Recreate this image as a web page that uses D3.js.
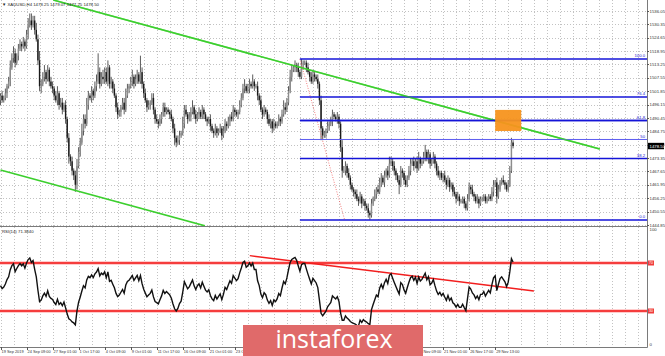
<!DOCTYPE html>
<html>
<head>
<meta charset="utf-8">
<script src="https://cdn.jsdelivr.net/npm/d3@7"></script>
<style>
  body { margin: 0; background: #fff; }
  svg { display: block; font-family: "Liberation Sans", Arial, sans-serif; }
</style>
</head>
<body>
<div id="chart"></div>
<script>
// XAUUSD H4, 19 Sep 2019 17:00 .. 3 Dec 2019

// closes before the first visible bar (only used to warm up the RSI)
const preCloses = [1499, 1502, 1504, 1501, 1500, 1502, 1503, 1505, 1506, 1503, 1508, 1494, 1496, 1499, 1501, 1498]

const closes = [
  1500, 1498,
  1499, 1501, 1504, 1506, 1512, 1516,
  1518, 1514, 1517, 1520, 1522, 1521,
  1523, 1521, 1526, 1530, 1532, 1530,
  1532, 1528, 1524, 1515, 1504, 1505,
  1508, 1510, 1507, 1511, 1506, 1504,
  1503, 1500, 1498, 1501, 1496, 1497,
  1494, 1496, 1490, 1482, 1474, 1472,
  1468, 1466, 1462, 1470, 1476, 1480,
  1485, 1490, 1488, 1496, 1500, 1499,
  1502, 1500, 1504, 1506, 1510, 1505,
  1508, 1507, 1510, 1506, 1512, 1505,
  1506, 1503, 1500, 1495, 1492, 1493,
  1495, 1497, 1494, 1500, 1503, 1504,
  1506, 1508, 1505, 1507, 1509, 1506,
  1510, 1505, 1501, 1498, 1495, 1496,
  1497, 1499, 1494, 1490, 1489, 1488,
  1490, 1492, 1495, 1493, 1494, 1493,
  1492, 1490, 1486, 1482, 1480, 1481,
  1483, 1484, 1488, 1494, 1492, 1490,
  1491, 1493, 1495, 1492, 1490, 1492,
  1493, 1491, 1494, 1492, 1490, 1489,
  1490, 1487, 1485, 1484, 1486, 1484,
  1485, 1486, 1483, 1485, 1488, 1487,
  1489, 1491, 1490, 1494, 1493, 1492,
  1493, 1496, 1499, 1503, 1504, 1502,
  1503, 1505, 1504, 1506, 1504, 1504,
  1500, 1498, 1494, 1492, 1494, 1493,
  1490, 1488, 1489, 1486, 1488, 1487,
  1488, 1490, 1489, 1492, 1495, 1494,
  1497, 1502, 1508, 1511, 1512, 1513,
  1512, 1510, 1508, 1513, 1514, 1514,
  1512, 1510, 1508, 1506, 1509, 1508,
  1507, 1505, 1498, 1486, 1483, 1484,
  1485, 1487, 1488, 1489, 1492, 1491,
  1490, 1491, 1488, 1478, 1468, 1468,
  1470, 1467, 1465, 1462, 1460, 1459,
  1458, 1456, 1455, 1457, 1454, 1455,
  1453, 1452, 1450, 1449, 1454, 1456,
  1458, 1460, 1459, 1463, 1465, 1463,
  1466, 1468, 1466, 1471, 1472, 1470,
  1468, 1466, 1464, 1462, 1468, 1467,
  1464, 1462, 1465, 1468, 1471, 1472,
  1470, 1472, 1469, 1473, 1471, 1472,
  1474, 1476, 1473, 1475, 1471, 1472,
  1474, 1471, 1468, 1466, 1467, 1465,
  1466, 1464, 1462, 1464, 1461, 1462,
  1459, 1458, 1456, 1457, 1455, 1455,
  1456, 1454, 1452, 1456, 1461, 1460,
  1458, 1457, 1455, 1456, 1454, 1456,
  1456, 1457, 1455, 1456, 1457, 1456,
  1459, 1462, 1463, 1457, 1460, 1463,
  1464, 1463, 1462, 1460, 1462, 1468,
  1480, 1478.5
]

// wick length above the body / below the body, in dollars
const wickUp = [
  1, 2,
  1, 2, 1, 2, 3, 2,
  3, 2, 1, 2, 2, 1,
  2, 1, 2, 3, 3, 3,
  2, 2, 3, 2, 4, 2,
  2, 3, 1, 2, 1, 2,
  2, 1, 2, 3, 1, 2,
  2, 1, 2, 1, 2, 1,
  2, 1, 2, 3, 2, 2,
  3, 2, 2, 3, 2, 1,
  2, 1, 2, 3, 8, 2,
  2, 3, 2, 2, 3, 1,
  2, 1, 2, 1, 2, 1,
  1, 2, 2, 3, 2, 1,
  2, 3, 1, 2, 2, 1,
  7, 2, 1, 2, 1, 2,
  1, 2, 2, 1, 2, 1,
  2, 1, 2, 2, 1, 1,
  1, 2, 1, 2, 1, 2,
  2, 1, 3, 2, 2, 1,
  2, 2, 3, 1, 2, 1,
  2, 1, 2, 1, 1, 1,
  1, 2, 1, 1, 2, 1,
  1, 2, 1, 2, 2, 1,
  2, 1, 2, 2, 1, 1,
  1, 2, 2, 2, 3, 1,
  2, 2, 1, 3, 1, 1,
  2, 1, 2, 1, 2, 1,
  1, 2, 1, 1, 2, 1,
  1, 2, 1, 2, 3, 2,
  2, 2, 3, 2, 1, 2,
  1, 2, 1, 2.6, 1, 1,
  1, 2, 1, 2, 2, 1,
  1, 2, 1, 2, 1, 1,
  1, 2, 1, 2, 2, 1,
  1, 2, 1, 1, 3, 2,
  2, 1, 2, 1, 1, 1,
  1, 2, 1, 2, 1, 1,
  1, 1, 2, 1, 2, 1,
  2, 1, 2, 2, 2, 1,
  2, 1, 2, 3, 2, 1,
  2, 1, 1, 2, 2, 1,
  1, 2, 1, 2, 2, 1,
  2, 1, 2, 3, 1, 1,
  2, 3, 1, 2, 1, 1,
  2, 1, 1, 2, 1, 1,
  1, 2, 1, 2, 1, 1,
  1, 2, 1, 2, 1, 1,
  1, 1, 1, 2, 2, 1,
  2, 1, 1, 2, 1, 1,
  1, 1, 1, 1, 1, 1,
  2, 2, 1, 2, 2, 1,
  1, 2, 1, 1, 2, 2,
  2, 1
]

const wickDn = [
  2, 1,
  1, 1, 2, 1, 2, 1,
  2, 2, 1, 2, 1, 2,
  1, 2, 1, 2, 1, 2,
  1, 2, 1, 2, 2, 3,
  1, 2, 2, 1, 2, 1,
  2, 2, 1, 2, 2, 1,
  2, 1, 2, 2, 3, 2,
  2, 2, 3, 2, 1, 2,
  1, 2, 2, 1, 2, 1,
  2, 2, 1, 2, 1, 2,
  1, 2, 2, 1, 2, 2,
  2, 2, 1, 2, 2, 1,
  2, 1, 2, 1, 1, 2,
  1, 2, 2, 1, 2, 1,
  1, 2, 2, 1, 2, 1,
  2, 1, 2, 2, 1, 2,
  1, 2, 1, 2, 1, 1,
  2, 1, 2, 3, 2, 1,
  2, 1, 1, 2, 1, 2,
  1, 2, 1, 2, 2, 1,
  2, 1, 1, 2, 1, 2,
  1, 2, 1, 2, 1, 2,
  1, 1, 2, 1, 1, 2,
  1, 2, 1, 1, 2, 1,
  2, 1, 1, 1, 2, 1,
  1, 2, 1, 1, 2, 1,
  2, 2, 1, 2, 1, 1,
  2, 1, 2, 2, 1, 1,
  1, 1, 2, 1, 1, 2,
  1, 1, 1, 2, 1, 2,
  2, 2, 1, 1, 2, 1,
  2, 1, 2, 1, 1, 2,
  1, 2, 2, 5, 2, 1,
  2, 1, 2, 1, 2, 1,
  1, 2, 2, 2, 3, 1,
  2, 2, 1, 2, 1, 2,
  2, 1, 2, 1, 2, 1,
  2, 1, 2, 2, 1, 1,
  1, 2, 1, 1, 2, 1,
  2, 1, 2, 1, 1, 2,
  2, 2, 1, 4, 1, 2,
  2, 1, 1, 1, 2, 1,
  2, 1, 2, 1, 2, 1,
  1, 2, 1, 2, 2, 1,
  1, 2, 2, 1, 2, 1,
  2, 1, 2, 1, 2, 1,
  2, 1, 2, 1, 2, 1,
  1, 2, 1, 1, 1, 2,
  1, 2, 1, 1, 2, 1,
  1, 1, 1, 1, 1, 1,
  1, 2, 1, 3, 1, 1,
  1, 1, 2, 1, 1, 1,
  1, 1
]

// one date label every 16 bars
const dateLabels = ["19 Sep 2019", "24 Sep 09:00", "27 Sep 01:00", "1 Oct 17:00", "4 Oct 09:00",
  "9 Oct 01:00", "11 Oct 17:00", "16 Oct 09:00", "21 Oct 01:00", "23 Oct 17:00", "28 Oct 09:00",
  "31 Oct 01:00", "4 Nov 17:00", "7 Nov 09:00", "12 Nov 01:00", "14 Nov 17:00", "19 Nov 09:00",
  "21 Nov 01:00", "26 Nov 17:00", "29 Nov 13:00"]

const priceTicks = [1444.85, 1450.55, 1456.25, 1461.95, 1467.65, 1473.35, 1479.05, 1484.75, 1490.45,
  1496.15, 1501.85, 1507.55, 1513.25, 1518.95, 1524.65, 1530.35, 1536.05]

const fibLevels = [0, 38.2, 50, 61.8, 76.4, 100]
const fibNames = ["0.0", "38.2", "50", "61.8", "76.4", "100.0"]
const fibHigh = 1515.6
const fibLow = 1447.0
const fibStartBar = 184

// trend lines as [bar, price]
const channelTop = [[32.5, 1540.7], [368.3, 1477.2]]
const channelBottom = [[0, 1468.3], [125.6, 1444.5]]
const fibDiagonal = [[184, 1515.6], [211.5, 1447.0]]
const zone = { bar0: 304, bar1: 320, top: 1493.9, bottom: 1484.9 }

const rsiLevels = [70, 30]
const rsiTrend = [[153.2, 76.1], [327.8, 46.7]]

const width = 665, height = 356
const plotRight = 647
const mainTop = 0, mainBottom = 226
const rsiTop = 227, rsiBottom = 347
const fs = "4.3px"

const svg = d3.select("#chart").append("svg")
  .attr("width", width)
  .attr("height", height)

const x = d3.scaleLinear().domain([0, 397]).range([0.5, 646.5])
const y = d3.scaleLinear().domain([1444.85, 1536.05]).range([225, 11])
const yr = d3.scaleLinear().domain([0, 100]).range([rsiBottom, rsiTop])

svg.append("clipPath").attr("id", "clipMain")
  .append("rect").attr("x", 0).attr("y", mainTop).attr("width", plotRight).attr("height", mainBottom - mainTop)
svg.append("clipPath").attr("id", "clipRsi")
  .append("rect").attr("x", 0).attr("y", rsiTop).attr("width", plotRight).attr("height", rsiBottom - rsiTop)

// grid
const gridBars = d3.range(0, 400, 8).filter(b => x(b) < plotRight)
const grid = svg.append("g")
  .attr("stroke", "#c2c2c2")
  .attr("stroke-width", 1)
  .attr("stroke-dasharray", "1,2")
grid.selectAll(null).data(gridBars).enter().append("line")
  .attr("x1", d => Math.round(x(d)) + 0.5).attr("x2", d => Math.round(x(d)) + 0.5)
  .attr("y1", mainTop).attr("y2", mainBottom)
grid.selectAll(null).data(gridBars).enter().append("line")
  .attr("x1", d => Math.round(x(d)) + 0.5).attr("x2", d => Math.round(x(d)) + 0.5)
  .attr("y1", rsiTop).attr("y2", rsiBottom)
grid.selectAll(null).data(priceTicks).enter().append("line")
  .attr("x1", 0).attr("x2", plotRight)
  .attr("y1", d => Math.round(y(d)) + 0.5).attr("y2", d => Math.round(y(d)) + 0.5)

// candles
const bars = closes.map((c, i) => {
  const o = i == 0 ? preCloses[preCloses.length - 1] : closes[i - 1]
  return { i: i, o: o, c: c, h: Math.max(o, c) + wickUp[i], l: Math.min(o, c) - wickDn[i] }
})

const candles = svg.append("g").attr("clip-path", "url(#clipMain)")
candles.selectAll(null).data(bars).enter().append("line")
  .attr("x1", d => x(d.i)).attr("x2", d => x(d.i))
  .attr("y1", d => y(d.h)).attr("y2", d => y(d.l))
  .attr("stroke", "#4a4a4a")
  .attr("stroke-width", 0.9)
candles.selectAll(null).data(bars).enter().append("rect")
  .attr("x", d => x(d.i) - 0.7)
  .attr("width", 1.4)
  .attr("y", d => y(Math.max(d.o, d.c)))
  .attr("height", d => Math.max(0.8, Math.abs(y(d.o) - y(d.c))))
  .attr("fill", d => d.c >= d.o ? "#8c8c8c" : "#1a1a1a")

// channel lines
const priceLine = d3.line().x(d => x(d[0])).y(d => y(d[1]))
const lines = svg.append("g").attr("clip-path", "url(#clipMain)")
;[channelTop, channelBottom].forEach(pts => {
  lines.append("path")
    .attr("d", priceLine(pts))
    .attr("fill", "none")
    .attr("stroke", "#3ccf2e")
    .attr("stroke-width", 1.6)
})

// fibonacci
lines.append("path")
  .attr("d", priceLine(fibDiagonal))
  .attr("fill", "none")
  .attr("stroke", "#f06060")
  .attr("stroke-width", 0.8)
  .attr("stroke-dasharray", "1,1.5")

const fibPrice = lv => fibLow + (fibHigh - fibLow) * lv / 100
fibLevels.forEach((lv, k) => {
  const yy = y(fibPrice(lv))
  lines.append("line")
    .attr("x1", x(fibStartBar)).attr("x2", plotRight)
    .attr("y1", yy).attr("y2", yy)
    .attr("stroke", lv == 50 ? "#5c5cf0" : "#1414d8")
    .attr("stroke-width", lv == 50 ? 1 : 1.6)
  svg.append("text")
    .attr("x", plotRight - 2).attr("y", yy - 1.5)
    .attr("text-anchor", "end")
    .attr("font-size", "4.2px")
    .attr("fill", "#2020d0")
    .text(fibNames[k])
})

// orange zone
svg.append("rect")
  .attr("x", x(zone.bar0)).attr("width", x(zone.bar1) - x(zone.bar0))
  .attr("y", y(zone.top)).attr("height", y(zone.bottom) - y(zone.top))
  .attr("fill", "#f7931e")
  .attr("opacity", 0.95)

// the trend line and 61.8 level show through the box
lines.append("path")
  .attr("d", priceLine(channelTop))
  .attr("fill", "none")
  .attr("stroke", "#3ccf2e")
  .attr("stroke-width", 1.6)
  .attr("opacity", 0.6)
lines.append("line")
  .attr("x1", x(fibStartBar)).attr("x2", plotRight)
  .attr("y1", y(fibPrice(61.8))).attr("y2", y(fibPrice(61.8)))
  .attr("stroke", "#1414d8").attr("stroke-width", 1.6)

// RSI(14), Wilder smoothing
const allCloses = preCloses.concat(closes)
let avgGain = 0, avgLoss = 0
for (let k = 1; k <= 14; k++) {
  const ch = allCloses[k] - allCloses[k - 1]
  if (ch > 0) avgGain += ch; else avgLoss -= ch
}
avgGain /= 14; avgLoss /= 14
const rsiAll = []
rsiAll[14] = 100 - 100 / (1 + avgGain / avgLoss)
for (let k = 15; k < allCloses.length; k++) {
  const ch = allCloses[k] - allCloses[k - 1]
  avgGain = (avgGain * 13 + Math.max(ch, 0)) / 14
  avgLoss = (avgLoss * 13 + Math.max(-ch, 0)) / 14
  rsiAll[k] = avgLoss == 0 ? 100 : 100 - 100 / (1 + avgGain / avgLoss)
}
const rsi = closes.map((c, i) => ({ i: i, v: rsiAll[i + preCloses.length] }))

const rsiG = svg.append("g").attr("clip-path", "url(#clipRsi)")
rsiLevels.forEach(lv => {
  rsiG.append("line")
    .attr("x1", 0).attr("x2", plotRight)
    .attr("y1", yr(lv)).attr("y2", yr(lv))
    .attr("stroke", "#ff9a9a").attr("stroke-width", 3.2)
  rsiG.append("line")
    .attr("x1", 0).attr("x2", plotRight)
    .attr("y1", yr(lv)).attr("y2", yr(lv))
    .attr("stroke", "#f21e1e").attr("stroke-width", 1.6)
})
rsiG.append("path")
  .attr("d", d3.line().x(d => x(d[0])).y(d => yr(d[1]))(rsiTrend))
  .attr("stroke", "#f21e1e").attr("stroke-width", 1.4).attr("fill", "none")
rsiG.append("path")
  .datum(rsi)
  .attr("d", d3.line().x(d => x(d.i)).y(d => yr(d.v)))
  .attr("fill", "none")
  .attr("stroke", "#111")
  .attr("stroke-width", 1.4)

// frames
const frame = svg.append("g").attr("stroke", "#7a7a7a").attr("stroke-width", 1)
frame.append("line").attr("x1", plotRight + 0.5).attr("x2", plotRight + 0.5).attr("y1", 0).attr("y2", rsiBottom + 0.5)
frame.append("line").attr("x1", 0).attr("x2", plotRight + 0.5).attr("y1", mainBottom + 0.5).attr("y2", mainBottom + 0.5)
frame.append("line").attr("x1", 0).attr("x2", plotRight + 0.5).attr("y1", rsiBottom + 0.5).attr("y2", rsiBottom + 0.5)

// price axis
const axisTxt = svg.append("g").attr("font-size", fs).attr("fill", "#333")
priceTicks.forEach(p => {
  axisTxt.append("line").attr("x1", plotRight).attr("x2", plotRight + 2)
    .attr("y1", Math.round(y(p)) + 0.5).attr("y2", Math.round(y(p)) + 0.5)
    .attr("stroke", "#555").attr("stroke-width", 1)
  axisTxt.append("text").attr("x", plotRight + 2.5).attr("y", y(p) + 1.5).text(p.toFixed(2))
})
const last = closes[closes.length - 1]
svg.append("rect").attr("x", plotRight + 1).attr("y", y(last) - 3.2).attr("width", 16).attr("height", 6.4).attr("fill", "#000")
svg.append("text").attr("x", plotRight + 2.5).attr("y", y(last) + 1.6)
  .attr("font-size", fs).attr("fill", "#fff").text(last.toFixed(2))

// RSI axis
axisTxt.append("text").attr("x", plotRight + 2.5).attr("y", rsiTop + 4).text("100")
axisTxt.append("text").attr("x", plotRight + 2.5).attr("y", rsiBottom - 1).text("0")
rsiLevels.forEach(lv => {
  svg.append("rect").attr("x", plotRight + 1).attr("y", yr(lv) - 2.5).attr("width", 6).attr("height", 5).attr("fill", "#f03c3c")
  svg.append("text").attr("x", plotRight + 4).attr("y", yr(lv) + 1.3).attr("text-anchor", "middle")
    .attr("font-size", "3.5px").attr("fill", "#fff").text(lv)
})

// date axis
dateLabels.forEach((t, k) => {
  axisTxt.append("line").attr("x1", Math.round(x(16 * k)) + 0.5).attr("x2", Math.round(x(16 * k)) + 0.5)
    .attr("y1", rsiBottom).attr("y2", rsiBottom + 3).attr("stroke", "#555")
  axisTxt.append("text").attr("x", x(16 * k) + 1).attr("y", 353)
    .attr("font-size", "3.9px").text(t)
})

// titles
svg.append("text").attr("x", 2).attr("y", 6).attr("font-size", fs).attr("fill", "#222")
  .text("\u25BC XAUUSD,H4  1478.25 1479.07 1477.25 1478.50")
svg.append("text").attr("x", 2).attr("y", rsiTop + 6).attr("font-size", fs).attr("fill", "#222")
  .text("RSI(14) 71.3840")

// watermark
svg.append("rect").attr("x", 243).attr("y", 325).attr("width", 180).attr("height", 31).attr("fill", "#e06a6a")
svg.append("text").attr("x", 334).attr("y", 348)
  .attr("text-anchor", "middle")
  .attr("font-family", "'Open Sans', sans-serif")
  .attr("font-size", "25px")
  .attr("fill", "#fff")
  .text("instaforex")
</script>
</body>
</html>
